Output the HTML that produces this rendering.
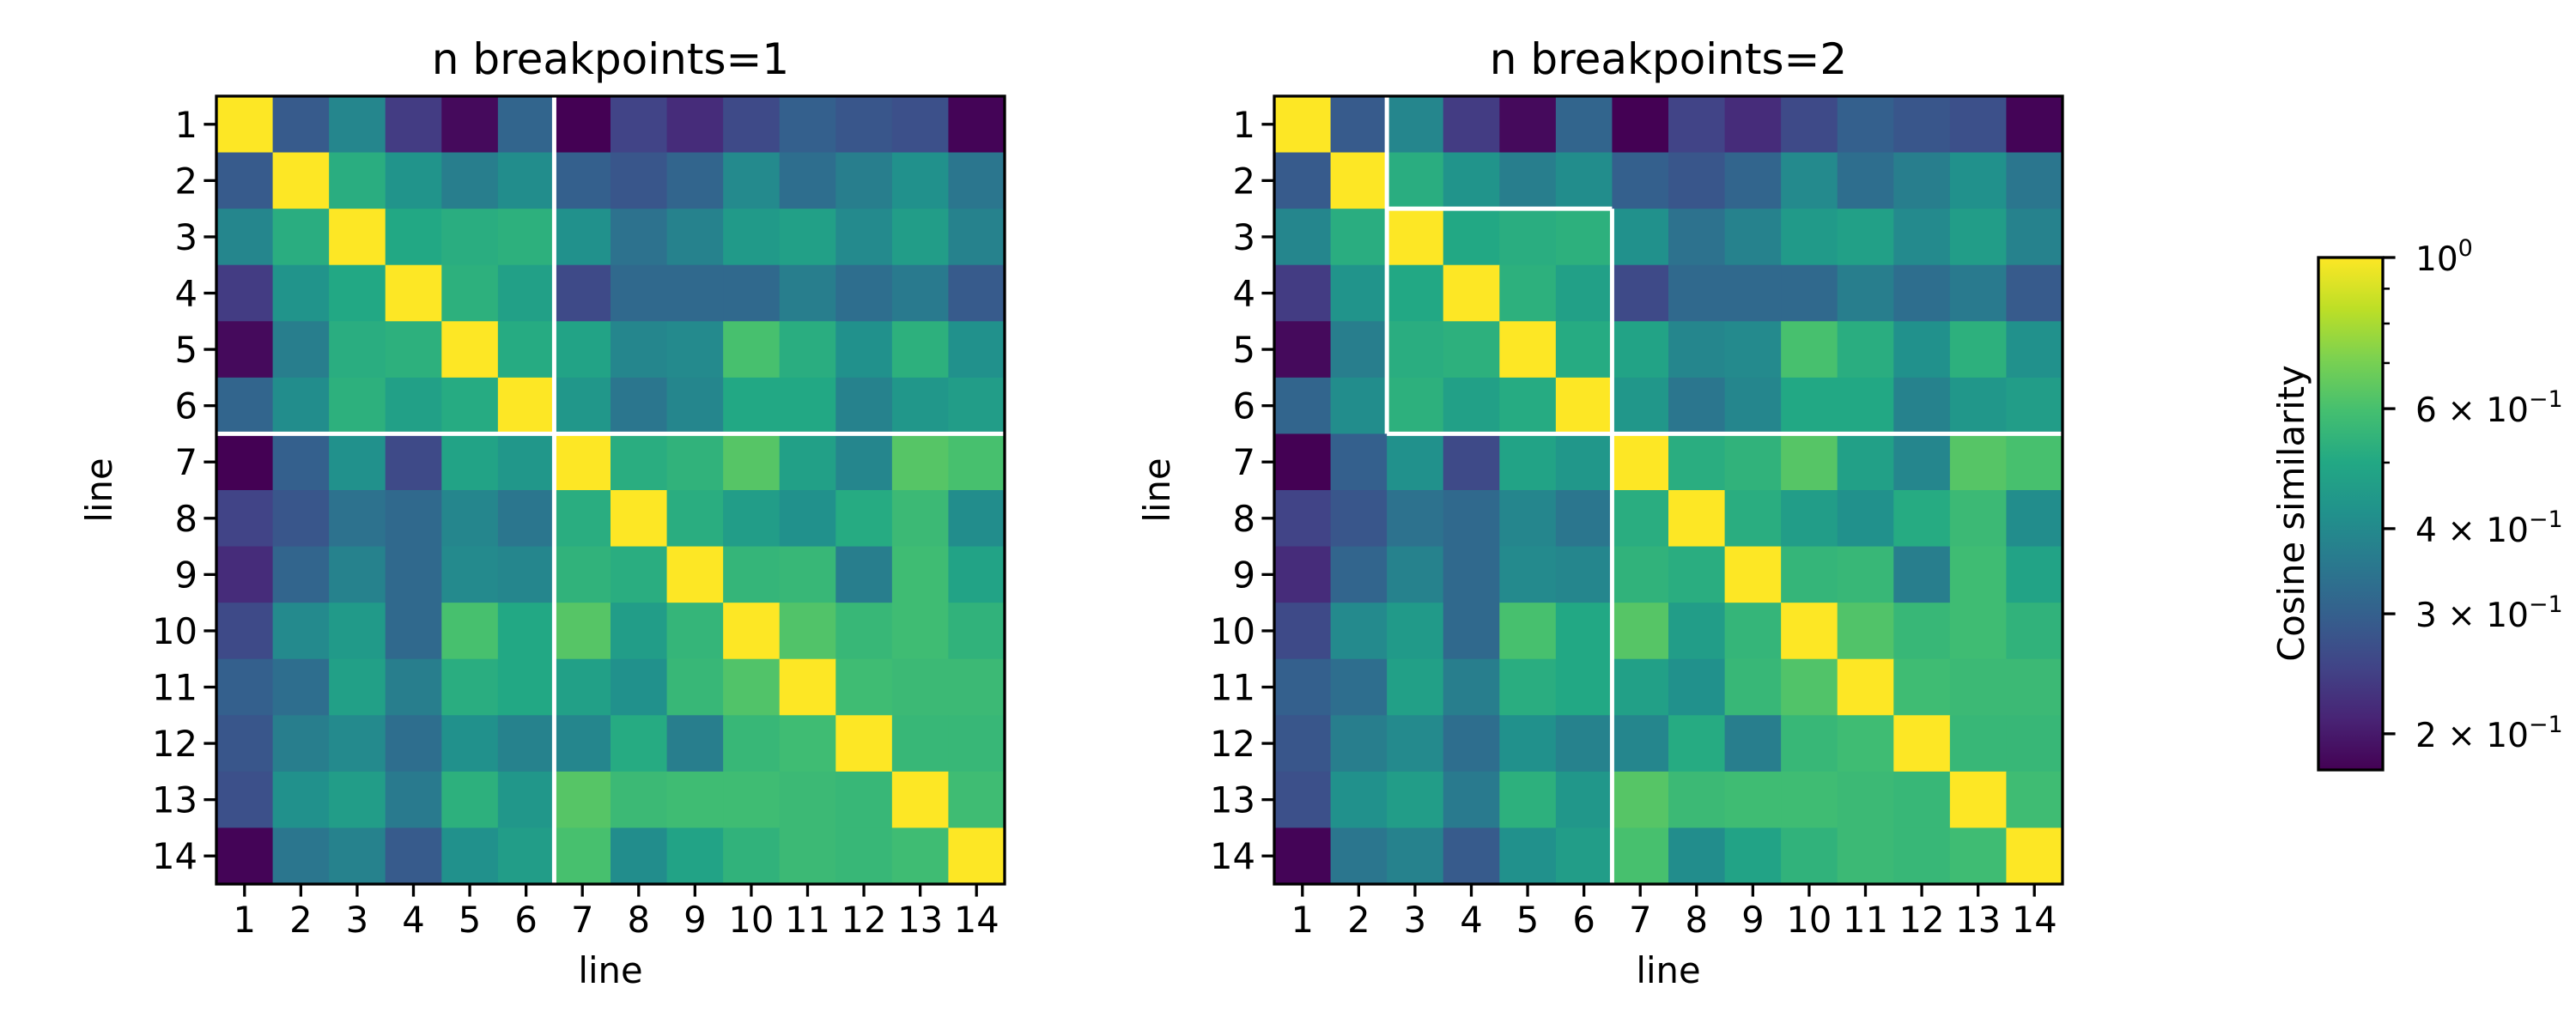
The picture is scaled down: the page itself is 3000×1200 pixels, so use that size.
<!DOCTYPE html>
<html><head><meta charset="utf-8"><style>html,body{margin:0;padding:0;background:#fff}svg{display:block}text{font-family:"DejaVu Sans","Liberation Sans",sans-serif;fill:#000}</style></head>
<body>
<svg id="fig" xmlns="http://www.w3.org/2000/svg" width="3000" height="1200" viewBox="0 0 3000 1200">
<defs><linearGradient id="vir" x1="0" y1="1" x2="0" y2="0"></linearGradient></defs>
<rect width="3000" height="1200" fill="#fff"/>
</svg>
<script>
const labels = ["1","2","3","4","5","6","7","8","9","10","11","12","13","14"];
const simRow1  = [1,.29,.39,.24,.185,.31,.177,.25,.22,.26,.30,.28,.27,.18];
const simRow2  = [.29,1,.52,.43,.37,.41,.30,.28,.31,.40,.33,.37,.42,.35];
const simRow3  = [.39,.52,1,.50,.52,.53,.42,.34,.38,.45,.47,.40,.46,.38];
const simRow4  = [.24,.43,.50,1,.53,.47,.26,.32,.32,.32,.37,.33,.36,.29];
const simRow5  = [.185,.37,.52,.53,1,.51,.48,.39,.40,.60,.52,.42,.53,.42];
const simRow6  = [.31,.41,.53,.47,.51,1,.44,.35,.39,.50,.50,.38,.44,.46];
const simRow7  = [.177,.30,.42,.26,.48,.44,1,.52,.54,.63,.47,.39,.63,.60];
const simRow8  = [.25,.28,.34,.32,.39,.35,.52,1,.52,.46,.42,.51,.57,.41];
const simRow9  = [.22,.31,.38,.32,.40,.39,.54,.52,1,.55,.56,.37,.58,.48];
const simRow10 = [.26,.40,.45,.32,.60,.50,.63,.46,.55,1,.62,.56,.58,.54];
const simRow11 = [.30,.33,.47,.37,.52,.50,.47,.42,.56,.62,1,.58,.57,.57];
const simRow12 = [.28,.37,.40,.33,.42,.38,.39,.51,.37,.56,.58,1,.56,.56];
const simRow13 = [.27,.42,.46,.36,.53,.44,.63,.57,.58,.58,.57,.56,1,.58];
const simRow14 = [.18,.35,.38,.29,.42,.46,.60,.41,.48,.54,.57,.56,.58,1];
const matrix = [simRow1,simRow2,simRow3,simRow4,simRow5,simRow6,simRow7,simRow8,simRow9,simRow10,simRow11,simRow12,simRow13,simRow14];
const panelTitles = ["n breakpoints=1","n breakpoints=2"];
const segments1 = [["v",6,0,14],["h",6,0,14]];
const segments2 = [["v",2,0,6],["h",2,2,6],["v",6,2,14],["h",6,2,14]];
const cbTicks = [1,0.6,0.4,0.3,0.2];
const cbTickMant = ["","6","4","3","2"];
const cbMinor = [0.9,0.8,0.7,0.5];
const vmin = 0.177, vmax = 1;

const NS="http://www.w3.org/2000/svg";
const svg=document.getElementById('fig');
const vir=["#440154","#482475","#414487","#355f8d","#2a788e","#21918c","#22a884","#44bf70","#7ad151","#bddf26","#fde725"];
function hex(h){return [1,3,5].map(i=>parseInt(h.substr(i,2),16));}
function norm(v){return Math.max(0,Math.min(1,Math.log(v/vmin)/Math.log(vmax/vmin)));}
function color(v){const t=norm(v)*10;const i=Math.min(9,Math.floor(t));const f=t-i;const a=hex(vir[i]),b=hex(vir[i+1]);return "rgb("+a.map((x,k)=>Math.round(x+(b[k]-x)*f)).join(",")+")";}
function mk(tag,attrs,parent){const e=document.createElementNS(NS,tag);for(const k in attrs)e.setAttribute(k,attrs[k]);(parent||svg).appendChild(e);return e;}

const grad=document.getElementById('vir');
vir.forEach((c,i)=>mk('stop',{offset:(i*10)+'%','stop-color':c},grad));

const axTop=112,size=918,n=labels.length,cell=size/n;
const lefts=[252,1484];
const segs=[segments1,segments2];
lefts.forEach((L,p)=>{
  const g=mk('g',{});
  
  
  const xs=c=>L+c*cell, ys=r=>axTop+r*cell;
  matrix.forEach((row,r)=>row.forEach((v,c)=>{
    const rc=mk('rect',{x:xs(c),y:ys(r),width:cell+0.6,height:cell+0.6,fill:color(v)},g);
    
    
  }));
  segs[p].forEach(s=>{
    let ln;
    if(s[0]==="v") ln=mk('line',{x1:xs(s[1]),x2:xs(s[1]),y1:ys(s[2]),y2:ys(s[3]),stroke:'#fff','stroke-width':5},g);
    else ln=mk('line',{y1:ys(s[1]),y2:ys(s[1]),x1:xs(s[2]),x2:xs(s[3]),stroke:'#fff','stroke-width':5},g);
    
    
  });
  const fr=mk('rect',{x:L,y:axTop,width:size,height:size,fill:'none',stroke:'#000','stroke-width':3.3},g);
  
  
  labels.forEach((lb,i)=>{
    const px=xs(i+0.5),py=ys(i+0.5);
    mk('line',{x1:px,x2:px,y1:axTop+size,y2:axTop+size+14.6,stroke:'#000','stroke-width':3.3},g);
    const tx=mk('text',{x:px,y:axTop+size+56,'font-size':41.7,'text-anchor':'middle'},g);
    tx.textContent=lb;
    
    
    mk('line',{x1:L,x2:L-14.6,y1:py,y2:py,stroke:'#000','stroke-width':3.3},g);
    const ty=mk('text',{x:L-22,y:py+15,'font-size':41.7,'text-anchor':'end'},g);
    ty.textContent=lb;
    
    
  });
  const t=mk('text',{x:L+size/2,y:axTop-26,'font-size':50,'text-anchor':'middle'},g);
  t.textContent=panelTitles[p];
  
  
  const xl=mk('text',{x:L+size/2,y:1145,'font-size':41.7,'text-anchor':'middle'},g);
  xl.textContent='line';
  
  
  const yl=mk('text',{x:0,y:0,'font-size':41.7,'text-anchor':'middle',transform:'translate('+(L-122)+','+(axTop+size/2)+') rotate(-90)'},g);
  yl.textContent='line';
  
  
});

const cbX=2700,cbW=75,cbT=300,cbH=597;
const cb=mk('g',{});


mk('rect',{x:cbX,y:cbT,width:cbW,height:cbH,fill:'url(#vir)',stroke:'#000','stroke-width':3.3},cb);
const cbY=v=>cbT+(Math.log(vmax)-Math.log(v))/(Math.log(vmax)-Math.log(vmin))*cbH;
cbMinor.forEach(v=>mk('line',{x1:cbX+cbW,x2:cbX+cbW+8,y1:cbY(v),y2:cbY(v),stroke:'#000','stroke-width':2.5},cb));
cbTicks.forEach((v,i)=>{
  const y=cbY(v);
  mk('line',{x1:cbX+cbW,x2:cbX+cbW+14.6,y1:y,y2:y,stroke:'#000','stroke-width':3.3},cb);
  const t=mk('text',{x:cbX+cbW+38,y:y+15,'font-size':39},cb);
  
  
  if(v===1){t.innerHTML='10<tspan dy="-17" font-size="27">0</tspan>';}
  else{t.innerHTML=cbTickMant[i]+' × 10<tspan dy="-17" font-size="27">−1</tspan>';}
});
const cl=mk('text',{x:0,y:0,'font-size':41.7,'text-anchor':'middle',transform:'translate(2683,598) rotate(-90)'},cb);
cl.textContent='Cosine similarity';


</script>
</body></html>
